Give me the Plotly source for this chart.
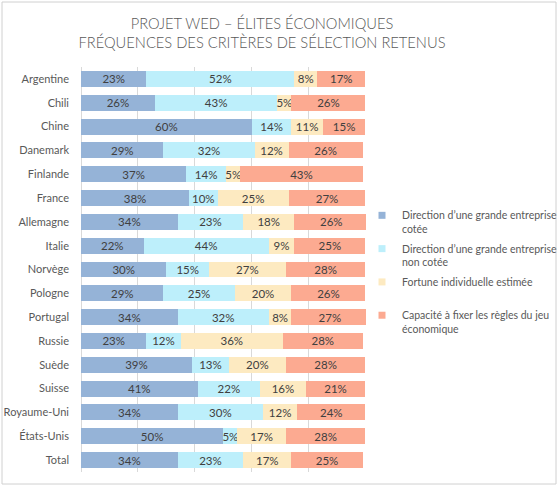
import plotly.graph_objects as go

countries = ["Argentine", "Chili", "Chine", "Danemark", "Finlande", "France", "Allemagne",
             "Italie", "Norvège", "Pologne", "Portugal", "Russie", "Suède", "Suisse",
             "Royaume-Uni", "États-Unis", "Total"]
cotee = [23, 26, 60, 29, 37, 38, 34, 22, 30, 29, 34, 23, 39, 41, 34, 50, 34]
non_cotee = [52, 43, 14, 32, 14, 10, 23, 44, 15, 25, 32, 12, 13, 22, 30, 5, 23]
fortune = [8, 5, 11, 12, 5, 25, 18, 9, 27, 20, 8, 36, 20, 16, 12, 17, 17]
capacite = [17, 26, 15, 26, 43, 27, 26, 25, 28, 26, 27, 28, 28, 21, 24, 28, 25]

series_names = ["Direction d’une grande entreprise<br>cotée",
                "Direction d’une grande entreprise<br>non cotée",
                "Fortune individuelle estimée<br> ",
                "Capacité à fixer les règles du jeu<br>économique"]
series_values = [cotee, non_cotee, fortune, capacite]
colors = ["#95B3D7", "#BDEFFB", "#FDEAC1", "#FCAA91"]

FONT = "Lato"
fig = go.Figure()
for name, vals, col in zip(series_names, series_values, colors):
    fig.add_trace(go.Bar(
        y=countries, x=vals, orientation="h", name=name,
        marker=dict(color=col, line=dict(width=0)),
        text=[f"{v}%" for v in vals], textposition="inside",
        insidetextanchor="middle", textangle=0,
        textfont=dict(color="#404040", size=11.5, family=FONT),
        showlegend=False, hoverinfo="x+y",
    ))
for i, (name, col) in enumerate(zip(series_names, colors)):
    fig.add_trace(go.Scatter(
        x=[None], y=[None], mode="markers", name=name,
        marker=dict(symbol="square", size=7, color=col),
        showlegend=True, legendgroup=f"g{i}",
    ))

W, H = 560, 487
L, R, T, B = 81, 366, 67, 472

def px_x(p):
    return (p - L) / (R - L)

def px_y(p):
    return (B - p) / (B - T)

fig.update_layout(
    width=W, height=H,
    barmode="stack", bargap=0.33,
    margin=dict(l=L, r=W - R, t=T, b=H - B, pad=0, autoexpand=False),
    paper_bgcolor="white", plot_bgcolor="rgba(0,0,0,0)",
    font=dict(family=FONT, color="#595959", size=11),
    uniformtext=dict(minsize=11.5, mode="show"),
    title=dict(
        text="PROJET WED – ÉLITES ÉCONOMIQUES<br>FRÉQUENCES DES CRITÈRES DE SÉLECTION RETENUS",
        x=262 / W, xref="container", xanchor="center",
        y=1 - 29 / H, yref="container", yanchor="middle",
        font=dict(family=FONT, size=14.7, color="#595959", weight=300),
    ),
    xaxis=dict(range=[0, 100.2], dtick=20, tick0=0, showticklabels=False,
               showgrid=True, gridcolor="#D9D9D9", gridwidth=1,
               zeroline=True, zerolinecolor="#D9D9D9", zerolinewidth=1,
               fixedrange=True),
    yaxis=dict(autorange="reversed", showgrid=False, ticks="",
               ticklabelstandoff=11, tickfont=dict(size=11, color="#595959"),
               fixedrange=True),
    legend=dict(x=362 / W, y=1 - 202 / H, xref="container", yref="container",
                xanchor="left", yanchor="top",
                valign="top", traceorder="grouped", itemwidth=30,
                font=dict(size=10.5, color="#595959", family=FONT),
                bgcolor="rgba(0,0,0,0)", tracegroupgap=3),
    shapes=[dict(type="rect", xref="paper", yref="paper",
                 x0=px_x(2), x1=px_x(556), y0=px_y(484), y1=px_y(2),
                 line=dict(color="#D0D0D0", width=1), fillcolor="rgba(0,0,0,0)",
                 layer="below")],
)

fig.write_html("out.html", config={"displayModeBar": False},
               post_script="document.body.style.margin='0';")
